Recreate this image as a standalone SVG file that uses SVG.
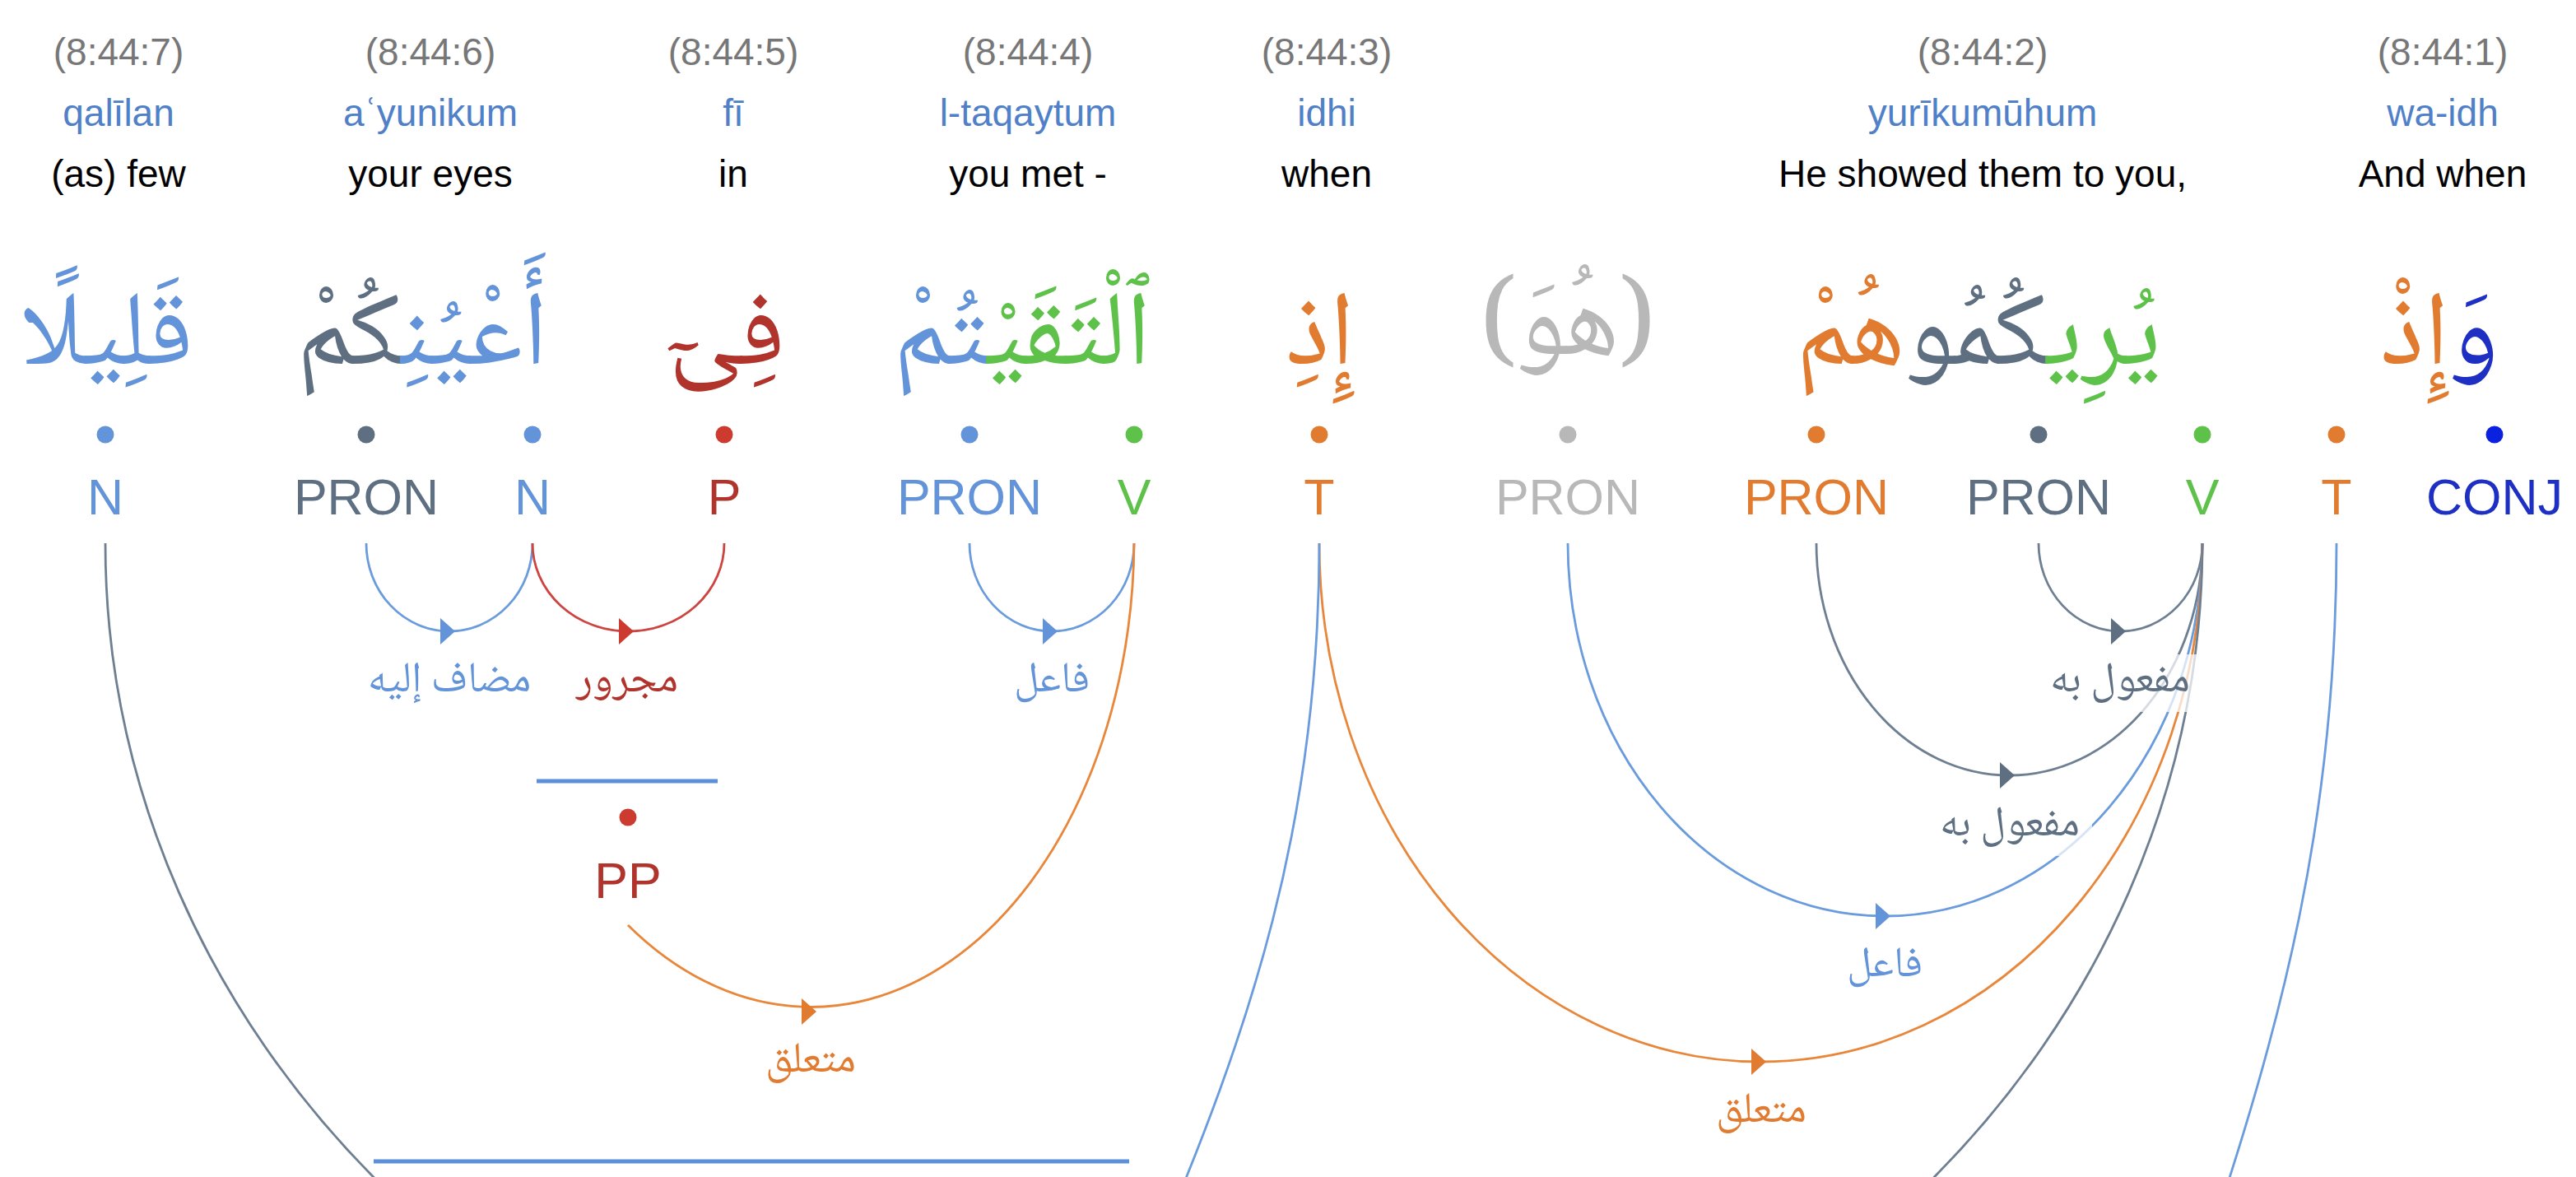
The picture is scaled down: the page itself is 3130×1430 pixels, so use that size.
<svg xmlns="http://www.w3.org/2000/svg" width="3130" height="1430" viewBox="0 0 3130 1430">
<style>
text{font-family:"Liberation Sans",Arial,sans-serif}
.num{font-size:46px;fill:#777;text-anchor:middle}
.tl{font-size:46px;fill:#4f80c8;text-anchor:middle}
.en{font-size:46px;fill:#000;text-anchor:middle}
.ar{font-family:"Noto Naskh Arabic","Noto Sans Arabic","DejaVu Sans",sans-serif;font-size:128px;text-anchor:middle}
.pos{font-size:61px;text-anchor:middle}
.lab{font-family:"Noto Naskh Arabic","Noto Sans Arabic","DejaVu Sans",sans-serif;font-size:52px;text-anchor:middle}
.arc{fill:none;stroke-width:2.8}
.phr{fill:none;stroke:#5b8fd8;stroke-width:5}
.bg{fill:#fff;fill-opacity:.72}
.fN{fill:#6393d8}.sN{stroke:#6a9bdc}
.fG{fill:#5e6f82}.sG{stroke:#6e7f92}
.fR{fill:#b0332c}.sR{stroke:#cc4540}
.fV{fill:#5ec24a}
.fO{fill:#e07b30}.sO{stroke:#e8863a}
.fH{fill:#b8b8b8}
.fC{fill:#1e2fc4}
.dR{fill:#cc3a30}.dC{fill:#0a22e0}
</style>
<defs>
<path id="arw" d="M-11,-16 L7,0 L-11,16 Z"/>
</defs>

<g id="word7">
<text class="num" x="144" y="79">(8:44:7)</text>
<text class="tl" x="144" y="153">qalīlan</text>
<text class="en" x="144" y="227">(as) few</text>
<text class="ar fN" x="130" y="442" direction="rtl">قَلِيلًا</text>
</g>
<g id="word6">
<text class="num" x="523" y="79">(8:44:6)</text>
<text class="tl" x="523" y="153">aʿyunikum</text>
<text class="en" x="523" y="227">your eyes</text>
<text class="ar" x="513" y="442" direction="rtl"><tspan class="fN">أَعْيُنِ</tspan><tspan class="fG">كُمْ</tspan></text>
</g>
<g id="word5">
<text class="num" x="891" y="79">(8:44:5)</text>
<text class="tl" x="891" y="153">fī</text>
<text class="en" x="891" y="227">in</text>
<text class="ar fR" x="883" y="442" direction="rtl">فِىٓ</text>
</g>
<g id="word4">
<text class="num" x="1249" y="79">(8:44:4)</text>
<text class="tl" x="1249" y="153">l-taqaytum</text>
<text class="en" x="1249" y="227">you met -</text>
<text class="ar" x="1242" y="442" direction="rtl"><tspan class="fV">ٱلْتَقَيْ</tspan><tspan class="fN">تُمْ</tspan></text>
</g>
<g id="word3">
<text class="num" x="1612" y="79">(8:44:3)</text>
<text class="tl" x="1612" y="153">idhi</text>
<text class="en" x="1612" y="227">when</text>
<text class="ar fO" x="1604" y="442" direction="rtl">إِذِ</text>
</g>
<g id="hidden">
<text class="ar fH" x="1905" y="430" direction="rtl">(هُوَ)</text>
</g>
<g id="word2">
<text class="num" x="2409" y="79">(8:44:2)</text>
<text class="tl" x="2409" y="153">yurīkumūhum</text>
<text class="en" x="2409" y="227">He showed them to you,</text>
<text class="ar" x="2404" y="442" direction="rtl"><tspan class="fV">يُرِي</tspan><tspan class="fG">كُمُو</tspan><tspan class="fO">هُمْ</tspan></text>
</g>
<g id="word1">
<text class="num" x="2968" y="79">(8:44:1)</text>
<text class="tl" x="2968" y="153">wa-idh</text>
<text class="en" x="2968" y="227">And when</text>
<text class="ar" x="2964" y="442" direction="rtl"><tspan class="fC">وَ</tspan><tspan class="fO">إِذْ</tspan></text>
</g>

<g id="n7-N"><circle class="fN" cx="128" cy="528" r="10.5"/><text class="pos fN" x="128" y="625">N</text></g>
<g id="n6-PRON"><circle class="fG" cx="445" cy="528" r="10.5"/><text class="pos fG" x="445" y="625">PRON</text></g>
<g id="n6-N"><circle class="fN" cx="647" cy="528" r="10.5"/><text class="pos fN" x="647" y="625">N</text></g>
<g id="n5-P"><circle class="dR" cx="880" cy="528" r="10.5"/><text class="pos fR" x="880" y="625">P</text></g>
<g id="n4-PRON"><circle class="fN" cx="1178" cy="528" r="10.5"/><text class="pos fN" x="1178" y="625">PRON</text></g>
<g id="n4-V"><circle class="fV" cx="1378" cy="528" r="10.5"/><text class="pos fV" x="1378" y="625">V</text></g>
<g id="n3-T"><circle class="fO" cx="1603" cy="528" r="10.5"/><text class="pos fO" x="1603" y="625">T</text></g>
<g id="nh-PRON"><circle class="fH" cx="1905" cy="528" r="10.5"/><text class="pos fH" x="1905" y="625">PRON</text></g>
<g id="n2-PRON3"><circle class="fO" cx="2207" cy="528" r="10.5"/><text class="pos fO" x="2207" y="625">PRON</text></g>
<g id="n2-PRON2"><circle class="fG" cx="2477" cy="528" r="10.5"/><text class="pos fG" x="2477" y="625">PRON</text></g>
<g id="n2-V"><circle class="fV" cx="2676" cy="528" r="10.5"/><text class="pos fV" x="2676" y="625">V</text></g>
<g id="n1-T"><circle class="fO" cx="2839" cy="528" r="10.5"/><text class="pos fO" x="2839" y="625">T</text></g>
<g id="n1-CONJ"><circle class="dC" cx="3031" cy="528" r="10.5"/><text class="pos fC" x="3031" y="625">CONJ</text></g>

<g id="pp"><path class="phr" d="M652,949 H872"/><circle class="dR" cx="763" cy="993" r="10.5"/><text class="pos fR" x="763" y="1091">PP</text></g>
<g id="phrase2"><path class="phr" d="M454,1411 H1372"/></g>

<g id="connectors">
<path class="arc sN" d="M445,660 A101,107 0 0 0 647,660"/>
<path class="arc sR" d="M647,660 A116.5,107 0 0 0 880,660"/>
<path class="arc sN" d="M1178,660 A100,107 0 0 0 1378,660"/>
<path class="arc sO" d="M763,1124 A393,569 0 0 0 1378,660"/>
<path class="arc sG" d="M2477,660 A99.5,107 0 0 0 2676,660"/>
<path class="arc sG" d="M2207,660 A234.5,282 0 0 0 2676,660"/>
<path class="arc sN" d="M1905,660 A385.5,453 0 0 0 2676,660"/>
<path class="arc sO" d="M1603,660 A536.5,630 0 0 0 2676,660"/>
<path class="arc sG" d="M128,660 A1274,1153 0 0 0 2676,660"/>
<path class="arc sN" d="M1603,660 C1603,1000 1520,1250 1400,1530"/>
<path class="arc sN" d="M2839,660 C2839,1000 2770,1250 2680,1520"/>
<use href="#arw" class="fN" x="546" y="767"/>
<use href="#arw" class="dR" x="763" y="767"/>
<use href="#arw" class="fN" x="1278" y="767"/>
<use href="#arw" class="fO" x="985" y="1229"/>
<use href="#arw" class="fG" x="2576" y="767"/>
<use href="#arw" class="fG" x="2441" y="942"/>
<use href="#arw" class="fN" x="2290" y="1113"/>
<use href="#arw" class="fO" x="2139" y="1290"/>
</g>

<g id="edge-labels">
<rect class="bg" x="423" y="795" width="246" height="70"/>
<text class="lab fN" x="546" y="840" direction="rtl">مضاف إليه</text>
<rect class="bg" x="700" y="795" width="124" height="70"/>
<text class="lab fR" x="762" y="840" direction="rtl">مجرور</text>
<rect class="bg" x="1222" y="795" width="112" height="70"/>
<text class="lab fN" x="1278" y="840" direction="rtl">فاعل</text>
<rect class="bg" x="922" y="1257" width="126" height="70"/>
<text class="lab fO" x="985" y="1302" direction="rtl">متعلق</text>
<rect class="bg" x="2476" y="795" width="200" height="70"/>
<text class="lab fG" x="2576" y="840" direction="rtl">مفعول به</text>
<rect class="bg" x="2342" y="970" width="200" height="70"/>
<text class="lab fG" x="2442" y="1015" direction="rtl">مفعول به</text>
<rect class="bg" x="2234" y="1141" width="112" height="70"/>
<text class="lab fN" x="2290" y="1186" direction="rtl">فاعل</text>
<rect class="bg" x="2077" y="1318" width="126" height="70"/>
<text class="lab fO" x="2140" y="1363" direction="rtl">متعلق</text>
</g>
</svg>
